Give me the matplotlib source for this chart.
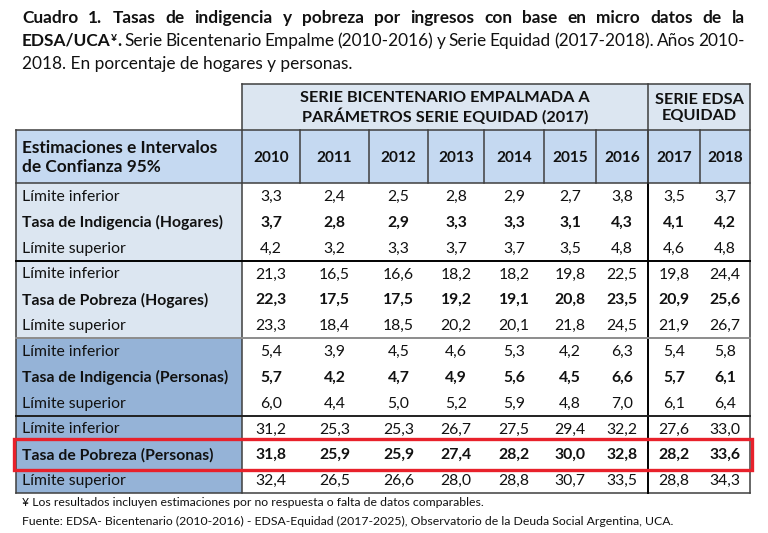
import matplotlib
matplotlib.use("Agg")
import matplotlib.pyplot as plt
from matplotlib.patches import Rectangle

# ---------------- data ----------------
years = ["2010", "2011", "2012", "2013", "2014", "2015", "2016", "2017", "2018"]
header_bicentenario = "SERIE BICENTENARIO EMPALMADA A\nPARÁMETROS SERIE EQUIDAD (2017)"
header_equidad = "SERIE EDSA\nEQUIDAD"
header_left = "Estimaciones e Intervalos\nde Confianza 95%"

row_labels = [
    "Límite inferior", "Tasa de Indigencia (Hogares)", "Límite superior",
    "Límite inferior", "Tasa de Pobreza (Hogares)", "Límite superior",
    "Límite inferior", "Tasa de Indigencia (Personas)", "Límite superior",
    "Límite inferior", "Tasa de Pobreza (Personas)", "Límite superior",
]
ind_hog_inf = [3.3, 2.4, 2.5, 2.8, 2.9, 2.7, 3.8, 3.5, 3.7]
ind_hog = [3.7, 2.8, 2.9, 3.3, 3.3, 3.1, 4.3, 4.1, 4.2]
ind_hog_sup = [4.2, 3.2, 3.3, 3.7, 3.7, 3.5, 4.8, 4.6, 4.8]
pob_hog_inf = [21.3, 16.5, 16.6, 18.2, 18.2, 19.8, 22.5, 19.8, 24.4]
pob_hog = [22.3, 17.5, 17.5, 19.2, 19.1, 20.8, 23.5, 20.9, 25.6]
pob_hog_sup = [23.3, 18.4, 18.5, 20.2, 20.1, 21.8, 24.5, 21.9, 26.7]
ind_per_inf = [5.4, 3.9, 4.5, 4.6, 5.3, 4.2, 6.3, 5.4, 5.8]
ind_per = [5.7, 4.2, 4.7, 4.9, 5.6, 4.5, 6.6, 5.7, 6.1]
ind_per_sup = [6.0, 4.4, 5.0, 5.2, 5.9, 4.8, 7.0, 6.1, 6.4]
pob_per_inf = [31.2, 25.3, 25.3, 26.7, 27.5, 29.4, 32.2, 27.6, 33.0]
pob_per = [31.8, 25.9, 25.9, 27.4, 28.2, 30.0, 32.8, 28.2, 33.6]
pob_per_sup = [32.4, 26.5, 26.6, 28.0, 28.8, 30.7, 33.5, 28.8, 34.3]
table_rows = [ind_hog_inf, ind_hog, ind_hog_sup,
              pob_hog_inf, pob_hog, pob_hog_sup,
              ind_per_inf, ind_per, ind_per_sup,
              pob_per_inf, pob_per, pob_per_sup]
highlight_row = 10

title_line1 = "Cuadro 1. Tasas de indigencia y pobreza por ingresos con base en micro datos de la"
title_line2_bold = "EDSA/UCA"
title_line2_rest = "Serie Bicentenario Empalme (2010-2016) y Serie Equidad (2017-2018). Años 2010-"
title_line3 = "2018. En porcentaje de hogares y personas."
foot1 = "¥ Los resultados incluyen estimaciones por no respuesta o falta de datos comparables."
foot2 = ("Fuente: EDSA- Bicentenario (2010-2016) - EDSA-Equidad (2017-2025), "
         "Observatorio de la Deuda Social Argentina, UCA.")

# ---------------- layout ----------------
W, H = 768, 533
FONT = ["Lato", "DejaVu Sans"]
fig = plt.figure(figsize=(W / 100, H / 100), dpi=100)
ax = fig.add_axes([0, 0, 1, 1])
ax.set_xlim(0, W)
ax.set_ylim(H, 0)
ax.axis("off")
renderer = fig.canvas.get_renderer()
TXT = "#111111"


def text_width(s, size, weight="normal"):
    t = ax.text(0, 0, s, fontsize=size, fontweight=weight, family=FONT)
    w = t.get_window_extent(renderer).width
    t.remove()
    return w


def fit(s, weight, target):
    return 10 * target / text_width(s, 10, weight)


xl, xs = 16, 242
col_edges = [242, 300, 369, 428, 484, 544, 596, 648, 700, 750]
split_x = 648
y_h1, y_h2, y_d0, y_end = 84, 130, 183, 493
nrows = len(table_rows)
rh = (y_end - y_d0) / nrows

c_light = "#dce6f1"
c_mid = "#c5d9f1"
c_dark = "#95b3d7"
c_line = "#3f3f3f"

# font sizes fitted to the reference widths
fs_title = fit(title_line3, "normal", 330)
fs_cell = fit("Tasa de Indigencia (Hogares)", "bold", 200)
fs_head = fit("SERIE BICENTENARIO EMPALMADA A", "bold", 289)
fs_left = fit("Estimaciones e Intervalos", "bold", 196)
fs_year = fit("2010", "bold", 36)
fs_foot = fit(foot2, "normal", 653)

# ---------------- fills ----------------
ax.add_patch(Rectangle((xs, y_h1), col_edges[-1] - xs, y_h2 - y_h1, fc=c_light, ec="none"))
ax.add_patch(Rectangle((xl, y_h2), col_edges[-1] - xl, y_d0 - y_h2, fc=c_mid, ec="none"))
ax.add_patch(Rectangle((xl, y_d0), xs - xl, 6 * rh, fc=c_light, ec="none"))
ax.add_patch(Rectangle((xl, y_d0 + 6 * rh), xs - xl, 6 * rh, fc=c_dark, ec="none"))

# ---------------- lines ----------------
lw = 1.1
ax.plot([xs, col_edges[-1]], [y_h1, y_h1], color=c_line, lw=lw)
ax.plot([xl, col_edges[-1]], [y_h2, y_h2], color=c_line, lw=lw)
ax.plot([xl, col_edges[-1]], [y_d0, y_d0], color=c_line, lw=lw)
ax.plot([xl, col_edges[-1]], [y_end, y_end], color=c_line, lw=lw)
ax.plot([xl, xl], [y_h2, y_end], color=c_line, lw=lw)
ax.plot([col_edges[-1], col_edges[-1]], [y_h1, y_end], color=c_line, lw=lw)
ax.plot([xs, xs], [y_h1, y_end], color=c_line, lw=lw)
ax.plot([split_x, split_x], [y_h1, y_d0], color=c_line, lw=lw)
ax.plot([split_x, split_x], [y_d0, y_end], color="black", lw=1.4)
for x in col_edges[1:-1]:
    ax.plot([x, x], [y_h2, y_d0], color=c_line, lw=lw)
for g, col in [(3, "black"), (6, "#8c8c8c"), (9, "#202020")]:
    y = y_d0 + g * rh
    ax.plot([xl, col_edges[-1]], [y, y], color=col, lw=1.4)

# ---------------- header text ----------------
ax.text((xs + split_x) / 2, (y_h1 + y_h2) / 2 + 1, header_bicentenario, ha="center", va="center",
        fontsize=fs_head, fontweight="bold", family=FONT, linespacing=1.15, color=TXT)
ax.text((split_x + col_edges[-1]) / 2, (y_h1 + y_h2) / 2 + 1, header_equidad, ha="center", va="center",
        fontsize=fs_head, fontweight="bold", family=FONT, linespacing=1.15, color=TXT)
ax.text(xl + 6, (y_h2 + y_d0) / 2 + 1, header_left, ha="left", va="center",
        fontsize=fs_left, fontweight="bold", family=FONT, linespacing=1.3, color=TXT)
for i, yr in enumerate(years):
    cx = (col_edges[i] + col_edges[i + 1]) / 2
    ax.text(cx, (y_h2 + y_d0) / 2 + 1, yr, ha="center", va="center",
            fontsize=fs_year, fontweight="bold", family=FONT, color=TXT)

# ---------------- body ----------------
for r, (lab, vals) in enumerate(zip(row_labels, table_rows)):
    cy = y_d0 + (r + 0.5) * rh + 1
    wt = "bold" if (r % 3 == 1) else "normal"
    ax.text(xl + 6, cy, lab, ha="left", va="center", fontsize=fs_cell, fontweight=wt,
            family=FONT, color=TXT)
    for i, v in enumerate(vals):
        cx = (col_edges[i] + col_edges[i + 1]) / 2
        ax.text(cx, cy, f"{v:.1f}".replace(".", ","), ha="center", va="center",
                fontsize=fs_cell, fontweight=wt, family=FONT, color=TXT)

# highlight rectangle
yh0 = y_d0 + highlight_row * rh
ax.add_patch(Rectangle((14, yh0 - 2.5), 752 - 14, rh + 5, fc="none", ec="#e8212b", lw=2.4, zorder=5))


# ---------------- title ----------------
def justify(words, x0, x1, yb, size):
    widths = []
    for w in words:
        widths.append(sum(text_width(t, size * sc, wt) for t, wt, sc, dy in w))
    gap = (x1 - x0 - sum(widths)) / (len(words) - 1)
    x = x0
    for w, wd in zip(words, widths):
        xx = x
        for t, wt, sc, dy in w:
            ax.text(xx, yb + dy, t, ha="left", va="baseline", fontsize=size * sc, fontweight=wt,
                    family=FONT, color=TXT)
            xx += text_width(t, size * sc, wt)
        x += wd + gap


words1 = [[(w, "bold", 1, 0)] for w in title_line1.split()]
words2 = [[(title_line2_bold, "bold", 1, 0), ("¥", "bold", 0.6, -5), (".", "bold", 1, 0)]]
words2 += [[(w, "normal", 1, 0)] for w in title_line2_rest.split()]
justify(words1, 22, 745, 23, fs_title)
justify(words2, 22, 745, 46, fs_title)
ax.text(22, 68.5, title_line3, ha="left", va="baseline", fontsize=fs_title, family=FONT, color=TXT)

# ---------------- footnotes ----------------
ax.text(22, 506, foot1, ha="left", va="baseline", fontsize=fs_foot, family=FONT, color=TXT)
ax.text(22, 525, foot2, ha="left", va="baseline", fontsize=fs_foot, family=FONT, color=TXT)

fig.savefig("out.png", dpi=100, facecolor="white")
